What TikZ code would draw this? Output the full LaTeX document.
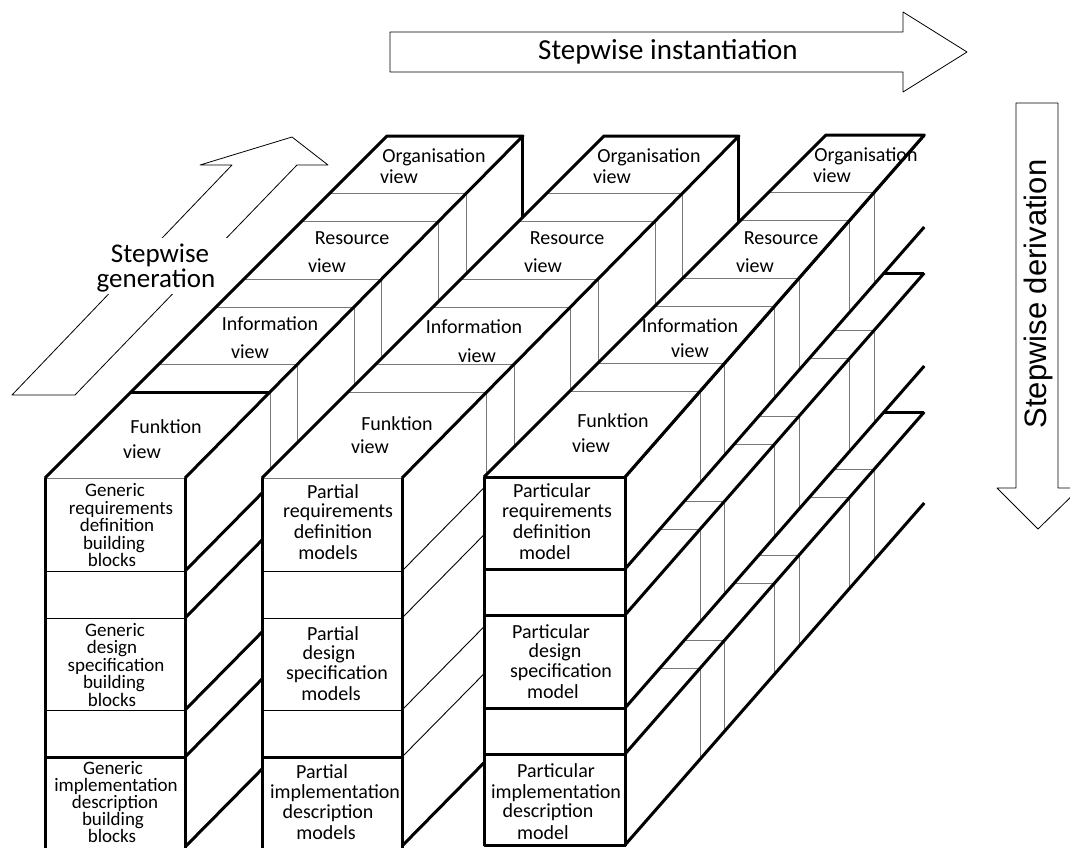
\documentclass[tikz,border=0pt]{standalone}
\usepackage{fontspec}
\setmainfont{Carlito}
\newfontfamily\arialf{Liberation Sans}
\makeatletter
\tikzdeclarecoordinatesystem{q}{\cube@parse#1\cube@end}
\def\cube@parse#1,#2,#3\cube@end{%
  \pgfmathsetmacro\cube@u{((#1)-\cxl)/\cw}%
  \pgfmathsetmacro\cube@s{\csl+\cube@u*(\csr-\csl)}%
  \pgfmathsetmacro\cube@x{(#1)+(#3)*\cube@s}%
  \pgfmathsetmacro\cube@y{(#3)-(#2)}%
  \pgfpoint{\cube@x pt}{\cube@y pt}}
\makeatother
\definecolor{lgray}{RGB}{120,120,120}
\begin{document}
\begin{tikzpicture}[x=1pt,y=-1pt,line join=round,
  thk/.style={line width=3pt,black},
  thn/.style={line width=0.9pt,lgray},
  thb/.style={line width=0.9pt,black},
  outl/.style={line width=0.8pt,black},
  lab/.style={font=\fontsize{20}{20}\selectfont,inner sep=0pt,anchor=base},
  labs/.style={font=\fontsize{19}{19}\selectfont,inner sep=0pt,anchor=base},
  big/.style={font=\fontsize{27}{27}\selectfont,inner sep=0pt,anchor=base}]
\useasboundingbox (0,0) rectangle (1070,847);
\def\views{86,114,171,199,257,285}

% ---------------- arrows
\draw[outl] (12,395) -- (232,165) -- (200,165) -- (292,137) -- (328,165) -- (297,165) -- (75,395) -- cycle;
\fill[white] (86,238) rectangle (230,294);
\node[big] (gen1) at (160,262) {Stepwise};
\node[big] (gen2) at (156,287) {generation};
\draw[outl] (390,32) -- (903,32) -- (903,12) -- (967,52) -- (903,92) -- (903,72) -- (390,72) -- cycle;
\node[font=\fontsize{29}{29}\selectfont] (inst) at (668,52) {Stepwise instantiation};
\draw[outl] (1016,103) -- (1058,103) -- (1058,488) -- (1080,488) -- (1038,529) -- (997,488) -- (1016,488) -- cycle;
\node[font=\arialf\fontsize{31}{31}\selectfont,rotate=90] (deriv) at (1038,294) {Stepwise derivation};

% ---------------- column 1
\def\cxl{45}\def\cw{140}\def\csl{1}\def\csr{0.988}
\fill[white] (q cs:185,478,0) -- (q cs:185,478,342) -- (q cs:185,850,342) -- (q cs:185,850,0) -- cycle;
\foreach \z in \views {\draw[thn] (q cs:185,478,\z) -- (q cs:185,850,\z);}
\foreach \Y in {571,618,710,757,847} {\draw[thk] (q cs:185,\Y,0) -- (q cs:185,\Y,342);}
\draw[thk] (q cs:185,478,342) -- (q cs:185,850,342);
\fill[white] (q cs:45,478,0) -- (q cs:185,478,0) -- (q cs:185,478,342) -- (q cs:45,478,342) -- cycle;
\foreach \z in {114,171,199,257,285} {\draw[thn] (q cs:45,478,\z) -- (q cs:185,478,\z);}
\draw[thk] (q cs:45,478,86) -- (q cs:185,478,86);
\draw[thk] (q cs:45,478,0) -- (q cs:45,478,342) -- (q cs:185,478,342) -- (q cs:185,478,0);
\fill[white] (45,478) rectangle (185,850);
\draw[thn] (45,478) -- (185,478);
\foreach \Y in {571,618,710} {\draw[thb] (45,\Y) -- (185,\Y);}
\draw[thk] (45,757) -- (185,757);
\draw[thk] (45,478) -- (45,850) (185,478) -- (185,850);
\node[lab] (c1fa) at (166,433) {Funktion};
\node[lab] (c1fb) at (142,458) {view};
\node[lab] (c1ia) at (270,330) {Information};
\node[lab] (c1ib) at (250,358) {view};
\node[lab] (c1ra) at (352,244) {Resource};
\node[lab] (c1rb) at (327,272) {view};
\node[lab] (c1oa) at (434,162) {Organisation};
\node[lab] (c1ob) at (399,183) {view};
\node[labs] (g1a) at (115,496) {Generic};
\node[labs] (g1b) at (121,514) {requirements};
\node[labs] (g1c) at (117,531) {definition};
\node[labs] (g1d) at (114,549) {building};
\node[labs] (g1e) at (112,566) {blocks};
\node[labs] (g2a) at (115,636) {Generic};
\node[labs] (g2b) at (112,653) {design};
\node[labs] (g2c) at (116,671) {specification};
\node[labs] (g2d) at (114,688) {building};
\node[labs] (g2e) at (112,706) {blocks};
\node[labs] (g3a) at (113,774) {Generic};
\node[labs] (g3b) at (116,791) {implementation};
\node[labs] (g3c) at (115,808) {description};
\node[labs] (g3d) at (113,825) {building};
\node[labs] (g3e) at (112,842) {blocks};

% ---------------- column 2
\def\cxl{262}\def\cw{140}\def\csl{1}\def\csr{0.985}
\fill[white] (q cs:402,478,0) -- (q cs:402,478,342) -- (q cs:402,850,342) -- (q cs:402,850,0) -- cycle;
\foreach \z in \views {\draw[thn] (q cs:402,478,\z) -- (q cs:402,850,\z);}
\foreach \Y in {571,618,710,757} {\draw[thb] (q cs:402,\Y,0) -- (q cs:402,\Y,342);}
\draw[thk] (q cs:402,846,0) -- (q cs:402,846,342);
\draw[thk] (q cs:402,478,342) -- (q cs:402,850,342);
\fill[white] (q cs:262,478,0) -- (q cs:402,478,0) -- (q cs:402,478,342) -- (q cs:262,478,342) -- cycle;
\foreach \z in \views {\draw[thn] (q cs:262,478,\z) -- (q cs:402,478,\z);}
\draw[thk] (q cs:262,478,0) -- (q cs:262,478,342) -- (q cs:402,478,342) -- (q cs:402,478,0);
\fill[white] (262,478) rectangle (402,850);
\draw[thn] (262,478) -- (402,478);
\foreach \Y in {571,618,710} {\draw[thb] (262,\Y) -- (402,\Y);}
\draw[thk] (262,757) -- (402,757);
\draw[thk] (262,478) -- (262,850) (402,478) -- (402,850);
\node[lab] (c2fa) at (397,430) {Funktion};
\node[lab] (c2fb) at (370,453) {view};
\node[lab] (c2ia) at (474,333) {Information};
\node[lab] (c2ib) at (477,362) {view};
\node[lab] (c2ra) at (567,244) {Resource};
\node[lab] (c2rb) at (543,272) {view};
\node[lab] (c2oa) at (649,162) {Organisation};
\node[lab] (c2ob) at (612,183) {view};
\node[lab] (p1a) at (333,498) {Partial};
\node[lab] (p1b) at (338,517) {requirements};
\node[lab] (p1c) at (333,538) {definition};
\node[lab] (p1d) at (328,559) {models};
\node[lab] (p2a) at (333,640) {Partial};
\node[lab] (p2b) at (329,659) {design};
\node[lab] (p2c) at (337,679) {specification};
\node[lab] (p2d) at (331,700) {models};
\node[lab] (p3a) at (322,778) {Partial};
\node[lab] (p3b) at (335,798) {implementation};
\node[lab] (p3c) at (328,818) {description};
\node[lab] (p3d) at (326,839) {models};

% ---------------- column 3
\def\cxl{484}\def\cw{141}\def\csl{1}\def\csr{0.875}
\fill[white] (q cs:625,477,0) -- (q cs:625,477,342) -- (q cs:625,845,342) -- (q cs:625,845,0) -- cycle;
\foreach \a/\b in {477/569,615/708,754/845} {\foreach \z in \views {\draw[thn] (q cs:625,\a,\z) -- (q cs:625,\b,\z);}}
\foreach \a/\b in {569/615,708/754} {\foreach \z in \views {\draw[thn] (q cs:625,\a,\z-46) -- (q cs:625,\b,\z);}}
\foreach \Y in {477,569,615,708,754,845} {\draw[thk] (q cs:625,\Y,0) -- (q cs:625,\Y,342);}
\draw[thk] (q cs:625,569,296) -- (q cs:625,615,342);
\draw[thk] (q cs:625,708,296) -- (q cs:625,754,342);
\fill[white] (q cs:484,477,0) -- (q cs:625,477,0) -- (q cs:625,477,342) -- (q cs:484,477,342) -- cycle;
\foreach \z in \views {\draw[thn] (q cs:484,477,\z) -- (q cs:625,477,\z);}
\draw[thk] (q cs:484,477,0) -- (q cs:484,477,342) -- (q cs:625,477,342) -- (q cs:625,477,0);
\fill[white] (484,477) rectangle (625,845);
\draw[thk] (484,477) rectangle (625,845);
\foreach \Y in {569,615,708,754} {\draw[thk] (484,\Y) -- (625,\Y);}
\node[lab] (c3fa) at (613,427) {Funktion};
\node[lab] (c3fb) at (591,452) {view};
\node[lab] (c3ia) at (690,332) {Information};
\node[lab] (c3ib) at (690,357) {view};
\node[lab] (c3ra) at (781,244) {Resource};
\node[lab] (c3rb) at (755,272) {view};
\node[lab] (c3oa) at (866,161) {Organisation};
\node[lab] (c3ob) at (832,182) {view};
\node[lab] (r1a) at (552,497) {Particular};
\node[lab] (r1b) at (557,517) {requirements};
\node[lab] (r1c) at (552,538) {definition};
\node[lab] (r1d) at (545,559) {model};
\node[lab] (r2a) at (551,638) {Particular};
\node[lab] (r2b) at (555,657) {design};
\node[lab] (r2c) at (561,677) {specification};
\node[lab] (r2d) at (553,698) {model};
\node[lab] (r3a) at (556,777) {Particular};
\node[lab] (r3b) at (556,798) {implementation};
\node[lab] (r3c) at (548,817) {description};
\node[lab] (r3d) at (543,839) {model};
\end{tikzpicture}
\end{document}
